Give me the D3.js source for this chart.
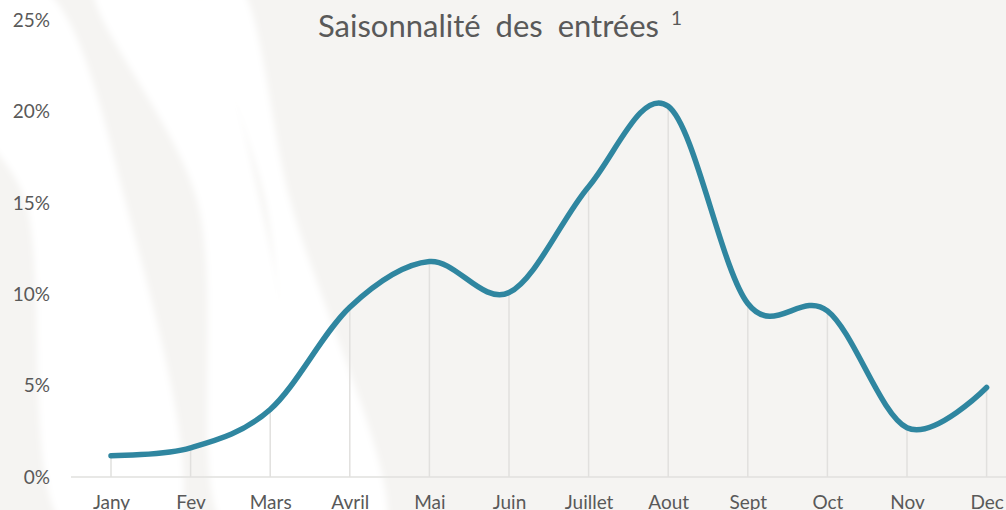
<!DOCTYPE html>
<html>
<head>
<meta charset="utf-8">
<script src="https://cdn.jsdelivr.net/npm/d3@7"></script>
<style>
  html, body { margin: 0; padding: 0; background: #f5f4f2; overflow: hidden; }
  svg { display: block; }
</style>
</head>
<body>
<script>
var months = ["Jany", "Fev", "Mars", "Avril", "Mai", "Juin", "Juillet", "Aout", "Sept", "Oct", "Nov", "Dec"];
var entrees = [0.0117, 0.016, 0.037, 0.093, 0.118, 0.101, 0.159, 0.203, 0.095, 0.091, 0.027, 0.049];
var yTicks = [0, 0.05, 0.10, 0.15, 0.20, 0.25];
var title = "Saisonnalité des entrées";

var W = 1006, H = 510;
var font = "Lato, 'Open Sans', sans-serif";

var svg = d3.select("body")
            .append("svg")
            .attr("width", W)
            .attr("height", H)

svg.append("rect")
   .attr("width", W)
   .attr("height", H)
   .attr("fill", "#f5f4f2")

// soft white bands in the background (decoration only)
var blur = svg.append("defs")
              .append("filter")
              .attr("id", "soft")
              .attr("x", "-20%").attr("y", "-20%")
              .attr("width", "140%").attr("height", "140%")
blur.append("feGaussianBlur").attr("stdDeviation", 3)

var bands = [
  [[-30, -20], [45, -10], [125, 200], [173, 530], [67, 530], [25, 200], [-20, 120]],
  [[95, -20], [187, -20], [260, 200], [300, 530], [227, 530], [197, 200]],
  [[200, -20], [235, -20], [290, 200], [383, 530], [313, 530], [265, 200]]
];
var bandLine = d3.line().curve(d3.curveCatmullRomClosed.alpha(0.5))
svg.selectAll("path.band")
   .data(bands)
   .enter()
   .append("path")
   .attr("class", "band")
   .attr("d", bandLine)
   .attr("fill", "#ffffff")
   .attr("filter", "url(#soft)")

var x = d3.scalePoint()
          .domain(months)
          .range([111, 986.6])

var y = d3.scaleLinear()
          .domain([0, 0.25])
          .range([477, 20.5])

// baseline
svg.append("line")
   .attr("x1", 71)
   .attr("x2", W)
   .attr("y1", y(0))
   .attr("y2", y(0))
   .attr("stroke", "#e1e0de")
   .attr("stroke-width", 1.5)

// drop lines
svg.selectAll("line.drop")
   .data(entrees)
   .enter()
   .append("line")
   .attr("class", "drop")
   .attr("x1", function(d, i) { return x(months[i]); })
   .attr("x2", function(d, i) { return x(months[i]); })
   .attr("y1", function(d) { return y(d); })
   .attr("y2", y(0))
   .attr("stroke", "#e1e0de")
   .attr("stroke-width", 1.5)

// y axis
var yAxis = svg.append("g")
               .attr("transform", "translate(50,0)")
               .call(d3.axisLeft(y).tickValues(yTicks).tickSize(0).tickPadding(0).tickFormat(d3.format(".0%")))
yAxis.select(".domain").remove()
yAxis.selectAll("text")
     .attr("fill", "#595959")
     .style("font-family", font)
     .style("font-size", "19px")

// x axis (labels run off the bottom edge like the original)
var xAxis = svg.append("g")
               .attr("transform", "translate(0," + y(0) + ")")
               .call(d3.axisBottom(x).tickSize(0).tickPadding(0))
xAxis.select(".domain").remove()
xAxis.selectAll("text")
     .attr("dy", null)
     .attr("y", 32)
     .attr("fill", "#595959")
     .style("font-family", font)
     .style("font-size", "19px")

// the line
var line = d3.line()
             .x(function(d, i) { return x(months[i]); })
             .y(function(d) { return y(d); })
             .curve(d3.curveCardinal.tension(0))

svg.append("path")
   .datum(entrees)
   .attr("d", line)
   .attr("fill", "none")
   .attr("stroke", "#2f86a0")
   .attr("stroke-width", 5.5)
   .attr("stroke-linecap", "round")
   .attr("stroke-linejoin", "round")

// title
var t = svg.append("text")
           .attr("x", 318)
           .attr("y", 37)
           .attr("fill", "#595959")
           .style("font-family", font)
           .style("font-size", "31px")
           .style("word-spacing", "7px")
t.append("tspan").text(title)
t.append("tspan")
 .attr("dx", 12)
 .attr("dy", -12)
 .style("font-size", "19px")
 .text("1")
</script>
</body>
</html>
